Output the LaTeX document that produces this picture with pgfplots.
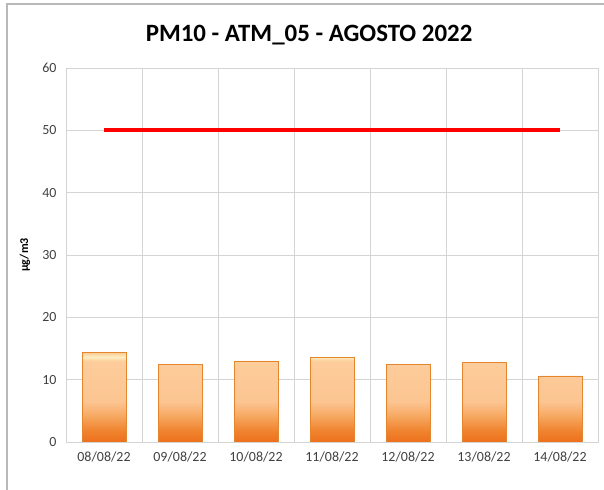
\documentclass[border=0pt]{standalone}
\usepackage{pgfplots}
\pgfplotsset{compat=1.18}
\usepackage{fontspec}
\setmainfont{Carlito}
\definecolor{gridc}{HTML}{D4D4D4}
\definecolor{tickc}{HTML}{404040}
\definecolor{baredge}{HTML}{E3862F}
\pgfdeclareverticalshading{barshade}{100bp}{%
  color(0bp)=(rgb,255:red,236;green,112;blue,28);
  color(25bp)=(rgb,255:red,236;green,112;blue,28);
  color(31bp)=(rgb,255:red,240;green,130;blue,45);
  color(40bp)=(rgb,255:red,247;green,170;blue,100);
  color(47.5bp)=(rgb,255:red,252;green,197;blue,145);
  color(70bp)=(rgb,255:red,253;green,205;blue,155);
  color(72.5bp)=(rgb,255:red,255;green,238;blue,195);
  color(75bp)=(rgb,255:red,250;green,200;blue,140);
  color(100bp)=(rgb,255:red,250;green,200;blue,140)}
\begin{document}
\begin{tikzpicture}[x=1bp,y=1bp]
\useasboundingbox (0,0) rectangle (604,490);
\draw[color=gray!55, line width=1.5bp] (7,0) -- (7,486) -- (604,486);
\begin{axis}[
  at={(66bp,48bp)}, anchor=south west,
  scale only axis, width=532bp, height=374bp,
  xmin=-0.5, xmax=6.5, ymin=0, ymax=60,
  ytick={0,10,...,60},
  xtick={0,...,6},
  xticklabels={08/08/22,09/08/22,10/08/22,11/08/22,12/08/22,13/08/22,14/08/22},
  minor xtick={-0.5,0.5,...,6.5},
  ymajorgrids, xminorgrids,
  grid style={gridc, line width=0.8bp},
  minor grid style={gridc, line width=0.8bp},
  axis line style={gridc, line width=0.8bp},
  major tick length=0pt, minor tick length=0pt,
  tick label style={font=\fontsize{14}{16}\selectfont, text=tickc},
  /pgf/number format/assume math mode=true,
  yticklabel style={xshift=-6bp},
  xticklabel style={yshift=-6bp},
  ylabel={\textbf{µg/m3}},
  ylabel style={font=\fontsize{12}{14}\selectfont, at={(axis description cs:-0.077,0.5)}, anchor=center},
  title={\textbf{PM10 - ATM\_05 - AGOSTO 2022}},
  title style={font=\fontsize{25}{28}\selectfont, at={(axis description cs:0.457,1)}, yshift=14bp, anchor=south},
]
\addplot[ybar, bar width=44bp, draw=baredge, line width=0.8bp,
  shading=barshade, shade]
  coordinates {(0,14.4) (1,12.5) (2,13.0) (3,13.6) (4,12.5) (5,12.8) (6,10.6)};
\addplot[color={rgb,255:red,255;green,0;blue,0}, line width=4bp] coordinates {(0,50) (6,50)};
\end{axis}
\end{tikzpicture}
\end{document}
